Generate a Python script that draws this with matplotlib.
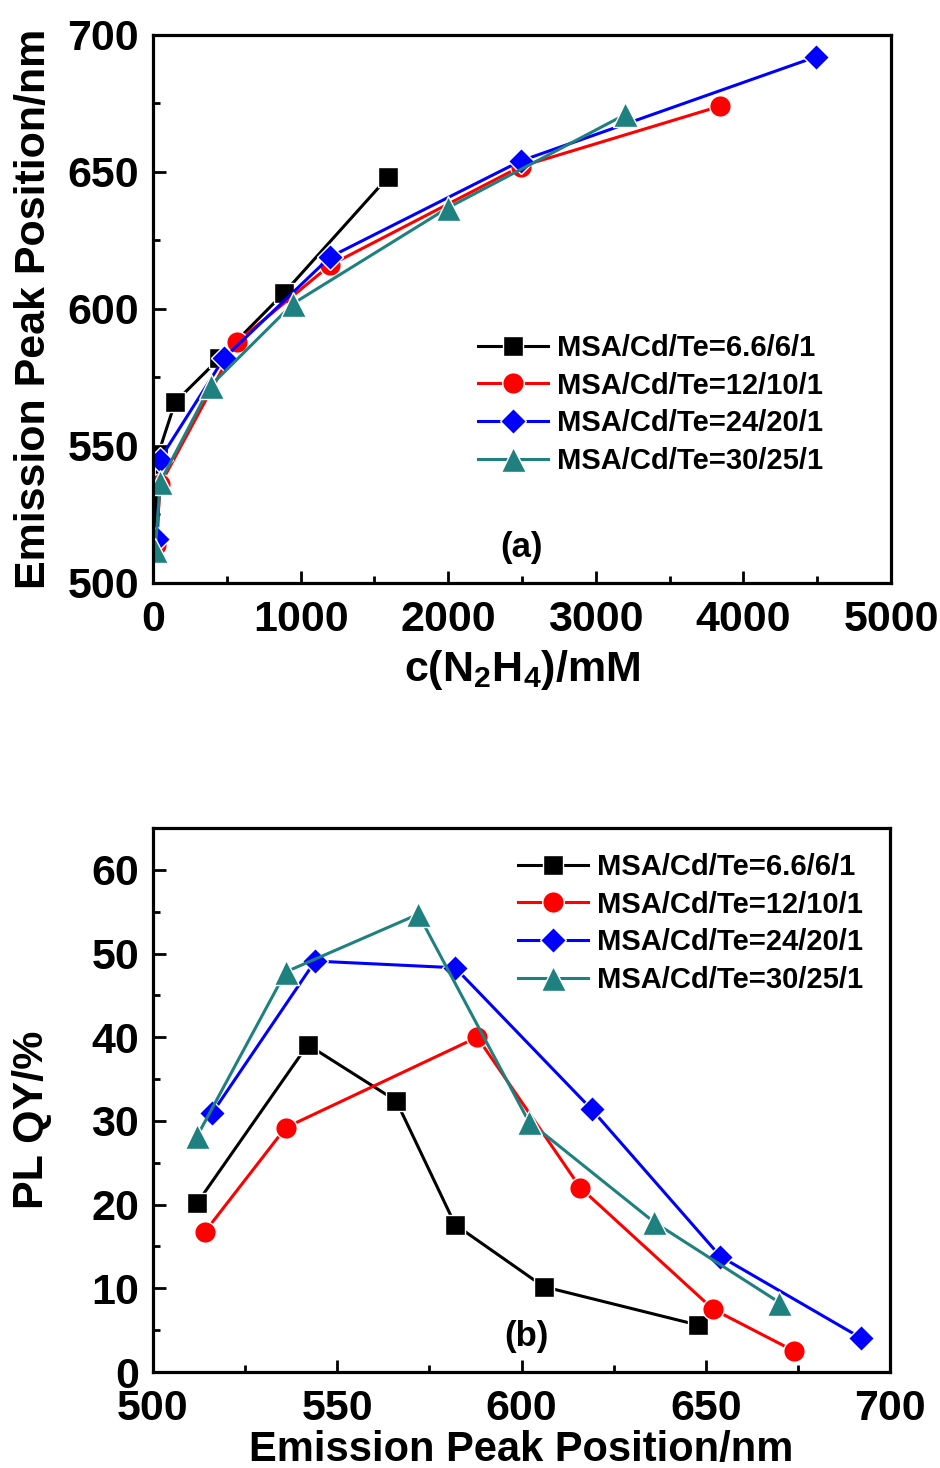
import matplotlib
matplotlib.use("Agg")
import matplotlib.pyplot as plt
from matplotlib.ticker import MultipleLocator

plt.rcParams['font.family'] = ['Liberation Sans', 'DejaVu Sans']
plt.rcParams['font.weight'] = 'bold'
plt.rcParams['mathtext.fontset'] = 'custom'
plt.rcParams['mathtext.rm'] = 'Liberation Sans:bold'
plt.rcParams['mathtext.bf'] = 'Liberation Sans:bold'
plt.rcParams['mathtext.it'] = 'Liberation Sans:bold'

labels = ['MSA/Cd/Te=6.6/6/1', 'MSA/Cd/Te=12/10/1',
          'MSA/Cd/Te=24/20/1', 'MSA/Cd/Te=30/25/1']

# (a) emission peak vs hydrazine concentration
conc_black = [10, 35, 150, 450, 890, 1590]
peak_black = [512, 547, 566, 582, 606, 648]
conc_red = [20, 50, 570, 1200, 2490, 3840]
peak_red = [514, 536, 588, 616, 652, 674]
conc_blue = [30, 45, 480, 1200, 2490, 4490]
peak_blue = [516, 545, 582, 619, 654, 692]
conc_teal = [15, 50, 390, 950, 2000, 3200]
peak_teal = [512, 537, 572, 602, 637, 671]

# (b) PL QY vs emission peak
em_black = [512, 542, 566, 582, 606, 648]
qy_black = [20.2, 39.1, 32.4, 17.6, 10.2, 5.6]
em_red = [514, 536, 588, 616, 652, 674]
qy_red = [16.7, 29.2, 40.0, 22.0, 7.5, 2.5]
em_blue = [516, 544, 582, 619, 654, 692]
qy_blue = [30.9, 49.1, 48.3, 31.4, 13.8, 4.1]
em_teal = [512, 536, 572, 602, 636, 670]
qy_teal = [28.2, 47.8, 54.7, 29.9, 17.9, 8.3]

colors = ['#000000', '#ff0000', '#0000ff', '#1f8080']
markers = ['s', 'o', 'D', '^']
msizes = [14.5, 15.5, 13.5, 18]

W, H = 940, 1468
fig = plt.figure(figsize=(W / 100, H / 100), dpi=100)

def ax_at(l, t, r, b):
    return fig.add_axes([l / W, 1 - b / H, (r - l) / W, (b - t) / H])

ax1 = ax_at(153, 35, 891, 583)
ax2 = ax_at(153, 828, 890, 1372)

def style(ax):
    for s in ax.spines.values():
        s.set_linewidth(2.3)
    ax.tick_params(which='both', direction='in', top=False, right=False,
                   width=2.0, labelsize=31)
    ax.tick_params(which='major', length=9)
    ax.tick_params(which='minor', length=5)
    for lab in ax.get_xticklabels() + ax.get_yticklabels():
        lab.set_fontweight('bold')

def plot_series(ax, xs, ys):
    for x, y, c, m, ms, lab in zip(xs, ys, colors, markers, msizes, labels):
        ax.plot(x, y, color=c, lw=2.2, marker=m, ms=ms, mfc=c,
                mec='white', mew=1.0, label=lab)

def add_legend(ax, x_px, y_px):
    leg = ax.legend(loc='upper left', bbox_to_anchor=(x_px / W, 1 - y_px / H),
                    bbox_transform=fig.transFigure, frameon=False, fontsize=21,
                    handlelength=2.4, handletextpad=0.3, labelspacing=0.33,
                    borderpad=0, borderaxespad=0)
    for t in leg.get_texts():
        t.set_fontweight('bold')
    return leg

plot_series(ax1, [conc_black, conc_red, conc_blue, conc_teal],
            [peak_black, peak_red, peak_blue, peak_teal])
ax1.set_xlim(0, 5000)
ax1.set_ylim(500, 700)
ax1.xaxis.set_major_locator(MultipleLocator(1000))
ax1.xaxis.set_minor_locator(MultipleLocator(500))
ax1.yaxis.set_major_locator(MultipleLocator(50))
ax1.yaxis.set_minor_locator(MultipleLocator(25))
style(ax1)
ax1.tick_params(axis='x', pad=12)
ax1.tick_params(axis='y', pad=10)
ax1.set_xlabel(r'c(N$_{2}$H$_{4}$)/mM', fontsize=31, fontweight='bold', labelpad=6)
ax1.set_ylabel('Emission Peak Position/nm', fontsize=31, fontweight='bold', labelpad=10)
ax1.text(0.5, 0.065, '(a)', transform=ax1.transAxes, fontsize=25,
         fontweight='bold', ha='center', va='center')
add_legend(ax1, 478, 334)

plot_series(ax2, [em_black, em_red, em_blue, em_teal],
            [qy_black, qy_red, qy_blue, qy_teal])
ax2.set_xlim(500, 700)
ax2.set_ylim(0, 65)
ax2.xaxis.set_major_locator(MultipleLocator(50))
ax2.xaxis.set_minor_locator(MultipleLocator(25))
ax2.yaxis.set_major_locator(MultipleLocator(10))
ax2.yaxis.set_minor_locator(MultipleLocator(5))
style(ax2)
ax2.tick_params(axis='x', pad=12)
ax2.tick_params(axis='y', pad=10)
ax2.set_xlabel('Emission Peak Position/nm', fontsize=30, fontweight='bold', labelpad=1)
ax2.set_ylabel('PL QY/%', fontsize=31, fontweight='bold')
ax2.yaxis.set_label_coords(-0.137, 0.463)
ax2.text(0.507, 0.066, '(b)', transform=ax2.transAxes, fontsize=25,
         fontweight='bold', ha='center', va='center')
add_legend(ax2, 518, 853)

fig.savefig('out.png', dpi=100)
